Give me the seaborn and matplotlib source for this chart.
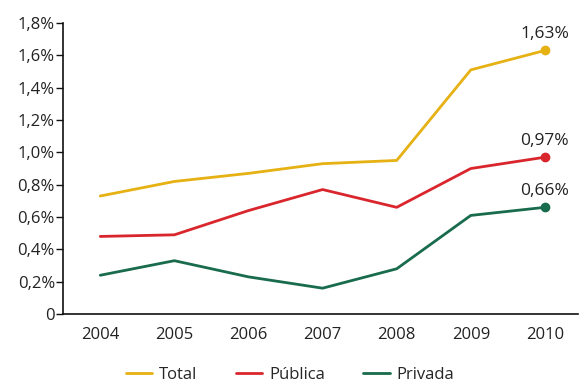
import pandas as pd
import matplotlib.pyplot as plt
import seaborn as sns
from matplotlib.ticker import FuncFormatter

years = [2004, 2005, 2006, 2007, 2008, 2009, 2010]
total = [0.73, 0.82, 0.87, 0.93, 0.95, 1.51, 1.63]
publica = [0.48, 0.49, 0.64, 0.77, 0.66, 0.90, 0.97]
privada = [0.24, 0.33, 0.23, 0.16, 0.28, 0.61, 0.66]
series_names = ['Total', 'Pública', 'Privada']
colors = ['#E6B113', '#D9262D', '#186B4C']

df = pd.DataFrame({
    'ano': years * 3,
    'valor': total + publica + privada,
    'serie': [n for n in series_names for _ in years],
})

sns.set_style('white')
plt.rcParams['font.family'] = ['Open Sans', 'DejaVu Sans']

fig = plt.figure(figsize=(5.8, 3.83), dpi=100)
ax = fig.add_axes([0.109, 0.18, 0.888, 0.76])

sns.lineplot(data=df, x='ano', y='valor', hue='serie', hue_order=series_names,
             palette=colors, linewidth=2, ax=ax)

# end points and their labels
for name, vals, c in zip(series_names, [total, publica, privada], colors):
    ax.plot(years[-1], vals[-1], 'o', color=c, markersize=6, zorder=5)
    ax.annotate(f'{vals[-1]:.2f}%'.replace('.', ','), (years[-1], vals[-1]),
                xytext=(0, 6), textcoords='offset points', ha='center',
                va='bottom', fontsize=12.5, color='#222222')

ax.set_xlim(2003.5, 2010.45)
ax.set_ylim(0, 1.8)
ax.set_xticks(years)
ax.set_yticks([0.2 * i for i in range(10)])
ax.yaxis.set_major_formatter(FuncFormatter(
    lambda v, p: '0' if abs(v) < 1e-9 else f'{v:.1f}%'.replace('.', ',')))
ax.set_xlabel('')
ax.set_ylabel('')

for s in ['top', 'right']:
    ax.spines[s].set_visible(False)
for s in ['left', 'bottom']:
    ax.spines[s].set_color('#111111')
    ax.spines[s].set_linewidth(1.2)
ax.tick_params(axis='y', left=True, length=5, width=1, color='#111111',
               labelsize=12, labelcolor='#222222', pad=1)
ax.tick_params(axis='x', bottom=False, labelsize=12, labelcolor='#222222', pad=6)

leg = ax.legend(loc='center', bbox_to_anchor=(0.5, 0.022),
                bbox_transform=fig.transFigure, ncol=3,
                frameon=False, fontsize=12, handlelength=1.6, columnspacing=2.3,
                handletextpad=0.4, borderpad=0)

plt.savefig('out.png', dpi=100)
plt.close()
